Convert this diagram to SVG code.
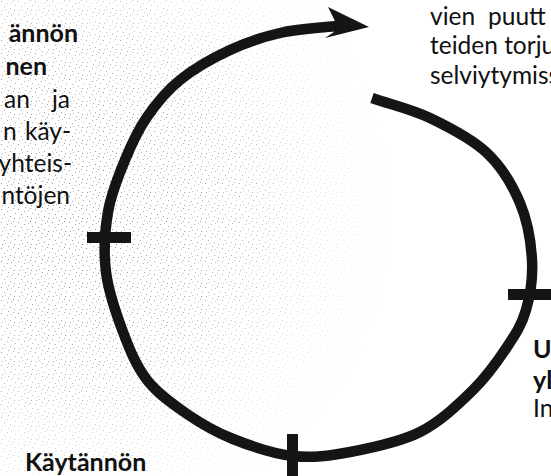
<svg xmlns="http://www.w3.org/2000/svg" width="551" height="476" viewBox="0 0 551 476">
  <style>
    .t { font-family: Lato, "Liberation Sans", sans-serif; font-size: 24.5px; fill: #111; }
    .b { font-family: Lato, "Liberation Sans", sans-serif; font-size: 25px; font-weight: bold; fill: #111; }
    .loop { fill: none; stroke: #151515; stroke-width: 10.5; stroke-linecap: butt; }
    .mark { fill: #151515; }
  </style>
  <defs>
    <pattern id="dots" width="17" height="13" patternUnits="userSpaceOnUse">
      <rect x="1" y="1" width="1" height="1" fill="#8a8a8a"/>
      <rect x="7" y="3" width="1" height="1" fill="#a0a0a0"/>
      <rect x="13" y="0" width="1" height="1" fill="#999"/>
      <rect x="4" y="6" width="1" height="1" fill="#9a9a9a"/>
      <rect x="10" y="8" width="1" height="1" fill="#8f8f8f"/>
      <rect x="15" y="5" width="1" height="1" fill="#a5a5a5"/>
      <rect x="2" y="10" width="1" height="1" fill="#a0a0a0"/>
      <rect x="8" y="12" width="1" height="1" fill="#999"/>
      <rect x="14" y="10" width="1" height="1" fill="#8c8c8c"/>
      <rect x="11" y="2" width="1" height="1" fill="#b0b0b0"/>
      <rect x="5" y="9" width="1" height="1" fill="#b5b5b5"/>
    </pattern>
    <radialGradient id="fade" cx="60" cy="210" r="340" gradientUnits="userSpaceOnUse">
      <stop offset="0" stop-color="#fff" stop-opacity="1"/>
      <stop offset="0.5" stop-color="#fff" stop-opacity="0.75"/>
      <stop offset="1" stop-color="#fff" stop-opacity="0"/>
    </radialGradient>
    <mask id="m">
      <rect width="551" height="476" fill="url(#fade)"/>
    </mask>
  </defs>
  <rect width="551" height="476" fill="#fff"/>
  <rect width="551" height="476" fill="url(#dots)" mask="url(#m)"/>

  <g id="connectors">
    <path class="loop" d="M372,98 C391.3,104.7 410.8,108.8 430,118 C449.2,127.2 472,138.8 487,153 C502,167.2 512.5,185.2 520,203 C527.5,220.8 531,242.2 532,260 C533,277.8 530.2,295.5 526,310 C521.8,324.5 515.8,333.7 507,347 C498.2,360.3 487.5,375.8 473,390 C458.5,404.2 440.5,421.7 420,432 C399.5,442.3 371.2,448 350,452 C328.8,456 312.5,458.2 293,456 C273.5,453.8 250.7,446 233,439 C215.3,432 201.3,423.8 187,414 C172.7,404.2 157.7,393.7 147,380 C136.3,366.3 129.8,350 123,332 C116.2,314 108.5,292 106,272 C103.5,252 104.8,230.7 108,212 C111.2,193.3 118.5,175.8 125,160 C131.5,144.2 137.8,130.3 147,117 C156.2,103.7 166.2,91.2 180,80 C193.8,68.8 213.3,57.8 230,50 C246.7,42.2 262.5,37 280,33 C297.5,29 316.7,28.3 336,26"/>
    <polygon class="mark" points="369,27 328,7 335,21 334,32 325,38"/>
  </g>

  <g id="tick-left"><rect class="mark" x="87" y="232" width="44" height="11"/></g>
  <g id="tick-bottom"><rect class="mark" x="287" y="434" width="11" height="42"/></g>
  <g id="tick-right"><rect class="mark" x="508" y="289" width="43" height="11"/></g>

  <g id="node-left">
    <text class="b" x="78" y="42" text-anchor="end">ännön</text>
    <text class="b" x="47" y="75" text-anchor="end">nen</text>
    <text class="t" x="4" y="108">an</text>
    <text class="t" x="70" y="108" text-anchor="end">ja</text>
    <text class="t" x="3" y="140">n</text>
    <text class="t" x="71" y="140" text-anchor="end">käy-</text>
    <text class="t" x="72" y="172" text-anchor="end">yhteis-</text>
    <text class="t" x="70" y="204" text-anchor="end">ntöjen</text>
  </g>

  <g id="node-top-right">
    <text class="t" x="430" y="25">vien</text>
    <text class="t" x="488" y="25">puutt</text>
    <text class="t" x="430" y="54">teiden torju</text>
    <text class="t" x="430" y="84">selviytymiss</text>
  </g>

  <g id="node-right">
    <text class="b" x="533" y="358">U</text>
    <text class="b" x="533" y="389">yl</text>
    <text class="t" x="533" y="417">In</text>
  </g>

  <g id="node-bottom-left">
    <text class="b" x="25" y="471">Käytännön</text>
  </g>
</svg>
